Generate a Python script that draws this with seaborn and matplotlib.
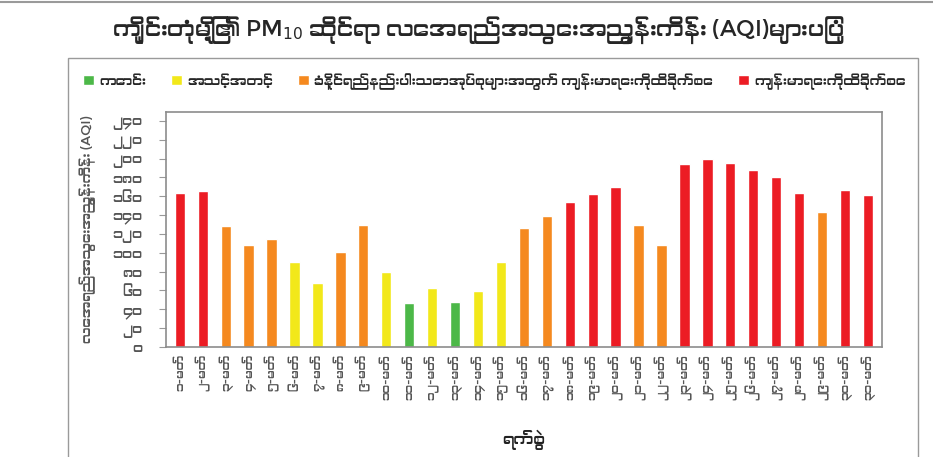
import matplotlib
matplotlib.use("Agg")
import matplotlib.pyplot as plt
from matplotlib import font_manager
from matplotlib.patches import Rectangle
from matplotlib.lines import Line2D
import seaborn as sns
import pandas as pd

# PM10 AQI, Kengtung, March 1-31
days = list(range(1, 32))
aqi = [163, 166, 128, 108, 115, 90, 68, 101, 129, 79, 47, 62, 48, 59, 90, 126,
       139, 154, 162, 170, 129, 108, 194, 200, 195, 188, 180, 163, 143, 167, 161]

cat_names = ["ကောင်း", "အသင့်အတင့်",
             "ခံနိုင်ရည်နည်းပါးသောအုပ်စုများအတွက် ကျန်းမာရေးကိုထိခိုက်စေ",
             "ကျန်းမာရေးကိုထိခိုက်စေ"]
cat_limits = [50, 100, 150, 500]
cat_colors = ["#4cb848", "#f2e81a", "#f5891f", "#ec1c24"]

title = "ကျိုင်းတုံမြို့၏ PM$_{10}$ ဆိုင်ရာ လေအရည်အသွေးအညွှန်းကိန်း (AQI)များပြပုံ"
ylabel = "လေအရည်အသွေးအညွှန်းကိန်း (AQI)"
xlabel = "ရက်စွဲ"
month = "မတ်"

mm_digits = str.maketrans("0123456789", "၀၁၂၃၄၅၆၇၈၉")
def mm(n):
    return str(n).translate(mm_digits)

def category(v):
    for name, lim in zip(cat_names, cat_limits):
        if v <= lim:
            return name

# look for a font that has Myanmar glyphs
fams = []
for f in font_manager.fontManager.ttflist:
    n = f.name
    if ("Myanmar" in n or "Padauk" in n) and n not in fams:
        fams.append(n)

sns.set_style("white")
plt.rcParams["font.family"] = fams + ["DejaVu Sans"]
plt.rcParams["mathtext.fontset"] = "dejavusans"

df = pd.DataFrame({
    "day": [mm(d) + "-" + month for d in days],
    "aqi": aqi,
    "cat": [category(v) for v in aqi],
})

fig = plt.figure(figsize=(9.33, 4.57), dpi=100)
ax = fig.add_axes([0.178, 0.241, 0.767, 0.515])

sns.barplot(df, x="day", y="aqi", hue="cat", hue_order=cat_names,
            palette=dict(zip(cat_names, cat_colors)), dodge=False,
            width=0.45, saturation=1, ax=ax, legend=True)

ax.set_ylim(0, 250)
ticks = list(range(0, 241, 20))
ax.set_yticks(ticks)
ax.set_yticklabels([mm(t) for t in ticks], fontsize=10, color="#555555")
ax.set_xlim(-0.6, 30.6)
ax.tick_params(axis="x", labelrotation=90, labelsize=8.5, colors="#555555", length=0, pad=5)
ax.tick_params(axis="y", length=5, color="#999999", direction="out", left=True, pad=12)
for s in ax.spines.values():
    s.set_color("#8c8c8c")
    s.set_linewidth(1.2)

ax.set_ylabel(ylabel, fontsize=9.5, color="#555555", labelpad=12)
ax.set_xlabel(xlabel, fontsize=11.5, fontweight="bold", color="#222222", labelpad=22)

handles, labels = ax.get_legend_handles_labels()
ax.legend_.remove()
fig.legend(handles, labels, loc="center", bbox_to_anchor=(0.53, 0.822), ncol=4,
           frameon=False, fontsize=9.6, handlelength=0.8, handleheight=0.8,
           columnspacing=1.9, handletextpad=0.4)

fig.suptitle(title, x=0.513, y=0.968, fontsize=16, fontweight="bold")

# outer frame of the chart block
fig.add_artist(Rectangle((68 / 933, -0.01), 850 / 933, 1 - 58 / 457 + 0.01,
                         transform=fig.transFigure, fill=False,
                         edgecolor="#9a9a9a", linewidth=1.0))
fig.add_artist(Line2D([0, 1], [0.995, 0.995], transform=fig.transFigure,
                      color="#9a9a9a", linewidth=1.5))

fig.savefig("out.png", dpi=100)
